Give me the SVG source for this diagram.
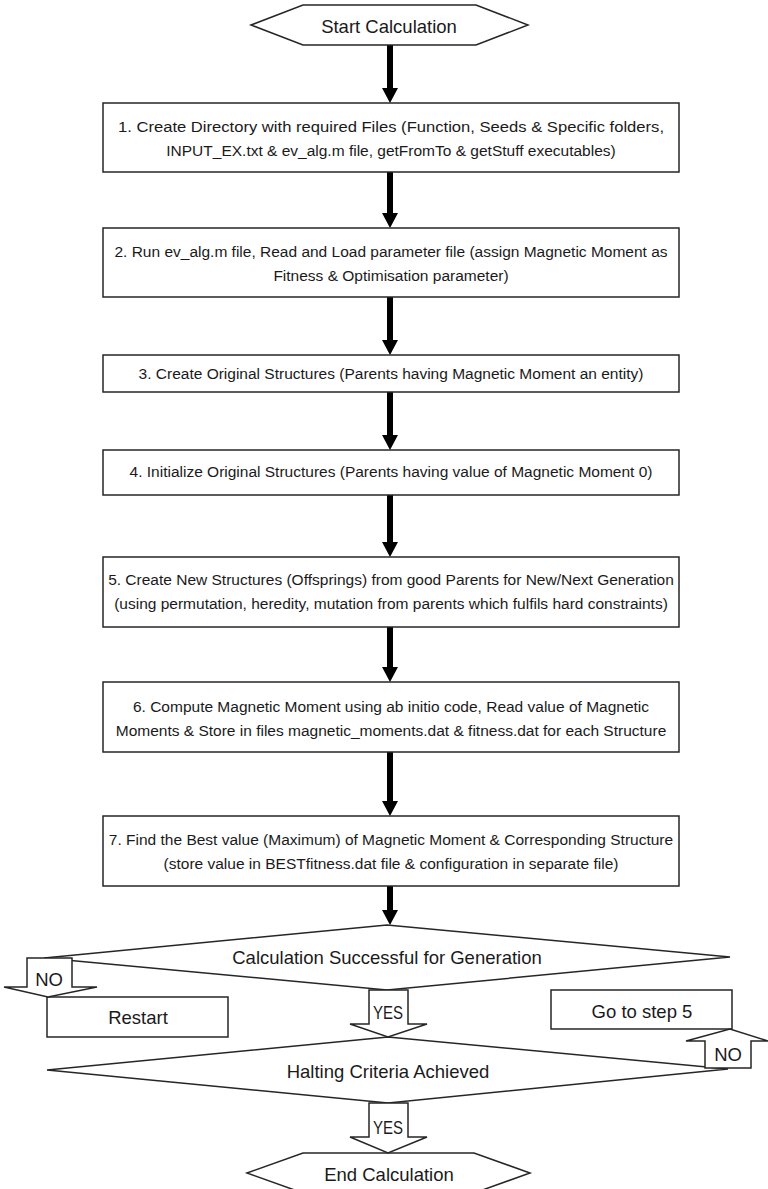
<svg xmlns="http://www.w3.org/2000/svg" width="768" height="1189" viewBox="0 0 768 1189">
<defs>
<style>
.bx{fill:#fff;stroke:#262626;stroke-width:1.5}
.ba{fill:#fff;stroke:#262626;stroke-width:1.5;stroke-linejoin:miter}
.t{font-family:"Liberation Sans",Arial,sans-serif;font-size:18.5px;fill:#1a1a1a;text-anchor:middle;dominant-baseline:central}
.s{font-family:"Liberation Sans",Arial,sans-serif;font-size:15.5px;fill:#1a1a1a;text-anchor:middle;dominant-baseline:central}
.ar{fill:#000}
</style>
</defs>
<rect width="768" height="1189" fill="#fff"/>
<g id="connectors">
<g class="ar">
<rect x="387" y="45" width="6" height="44"/><polygon points="382,88 398,88 390,103"/>
<rect x="387" y="172" width="6" height="42"/><polygon points="382,213 398,213 390,228"/>
<rect x="387" y="297" width="6" height="44"/><polygon points="382,340 398,340 390,355"/>
<rect x="387" y="392" width="6" height="44"/><polygon points="382,435 398,435 390,450"/>
<rect x="387" y="495" width="6" height="48"/><polygon points="382,542 398,542 390,557"/>
<rect x="387" y="627" width="6" height="41"/><polygon points="382,667 398,667 390,682"/>
<rect x="387" y="752" width="6" height="50"/><polygon points="382,801 398,801 390,816"/>
<rect x="387" y="886" width="6" height="25"/><polygon points="382,910 398,910 390,925"/>
</g>
</g>
<g id="start"><polygon class="bx" points="251,25 303,5 476,5 528,25 476,45 303,45"/><text class="t" x="389" y="26">Start Calculation</text></g>
<g id="step1"><rect class="bx" x="103" y="103" width="576" height="69"/><text class="s" x="391" y="126" textLength="546" lengthAdjust="spacingAndGlyphs">1. Create Directory with required Files (Function, Seeds &amp; Specific folders,</text><text class="s" x="391" y="150">INPUT_EX.txt &amp; ev_alg.m file, getFromTo &amp; getStuff executables)</text></g>
<g id="step2"><rect class="bx" x="103" y="228" width="576" height="69"/><text class="s" x="391" y="251">2. Run ev_alg.m file, Read and Load parameter file (assign Magnetic Moment as</text><text class="s" x="391" y="275">Fitness &amp; Optimisation parameter)</text></g>
<g id="step3"><rect class="bx" x="103" y="355" width="576" height="37"/><text class="s" x="391" y="373">3. Create Original Structures (Parents having Magnetic Moment an entity)</text></g>
<g id="step4"><rect class="bx" x="103" y="450" width="576" height="45"/><text class="s" x="391" y="471">4. Initialize Original Structures (Parents having value of Magnetic Moment 0)</text></g>
<g id="step5"><rect class="bx" x="103" y="557" width="576" height="70"/><text class="s" x="391" y="579">5. Create New Structures (Offsprings) from good Parents for New/Next Generation</text><text class="s" x="391" y="603">(using permutation, heredity, mutation from parents which fulfils hard constraints)</text></g>
<g id="step6"><rect class="bx" x="103" y="682" width="576" height="70"/><text class="s" x="391" y="706">6. Compute Magnetic Moment using ab initio code, Read value of Magnetic</text><text class="s" x="391" y="730">Moments &amp; Store in files magnetic_moments.dat &amp; fitness.dat for each Structure</text></g>
<g id="step7"><rect class="bx" x="103" y="816" width="576" height="70"/><text class="s" x="391" y="839">7. Find the Best value (Maximum) of Magnetic Moment &amp; Corresponding Structure</text><text class="s" x="391" y="863">(store value in BESTfitness.dat file &amp; configuration in separate file)</text></g>
<g id="decision1"><polygon class="bx" points="44,958 387,925 730,957 387,990"/><text class="t" x="387" y="957">Calculation Successful for Generation</text></g>
<g id="decision2"><polygon class="bx" points="47,1070 388,1037 728,1069 388,1103"/><text class="t" x="388" y="1071">Halting Criteria Achieved</text></g>
<g id="restart"><rect class="bx" x="47" y="997" width="181" height="40"/><text class="t" x="138" y="1017">Restart</text></g>
<g id="goto5"><rect class="bx" x="551" y="990" width="181" height="39"/><text class="t" x="642" y="1011">Go to step 5</text></g>
<g id="end"><polygon class="bx" points="247,1173 303,1153 474,1153 530,1173 474,1193 303,1193"/><text class="t" x="389" y="1174">End Calculation</text></g>
<g id="block-arrows">
<g id="no1"><polygon class="ba" points="27,958 72,958 72,987 97,987 48,997 4,987 27,987"/><text class="t" x="49" y="979">NO</text></g>
<g id="yes1"><polygon class="ba" points="369,990 408,990 408,1024 427,1024 388,1037 350,1024 369,1024"/><text class="t" x="388" y="1012" textLength="30" lengthAdjust="spacingAndGlyphs">YES</text></g>
<g id="no2"><polygon class="ba" points="705,1068 751,1068 751,1041 768,1041 730,1029 686,1041 705,1041"/><text class="t" x="728" y="1054">NO</text></g>
<g id="yes2"><polygon class="ba" points="369,1103 408,1103 408,1137 427,1137 388,1153 350,1137 369,1137"/><text class="t" x="388" y="1127" textLength="30" lengthAdjust="spacingAndGlyphs">YES</text></g>
</g>
</svg>
